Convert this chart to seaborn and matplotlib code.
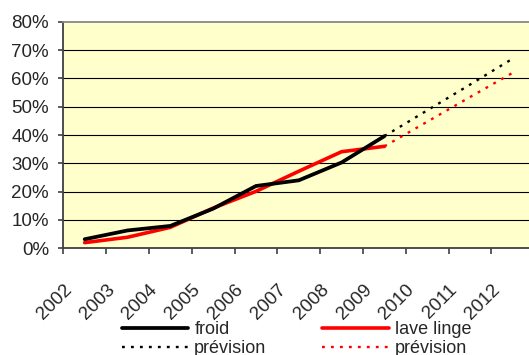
import numpy as np
import pandas as pd
import matplotlib
matplotlib.use("Agg")
import matplotlib.pyplot as plt
from matplotlib.ticker import FixedLocator
import seaborn as sns

# Equipment rate by year (%)
years = [2002, 2003, 2004, 2005, 2006, 2007, 2008, 2009, 2010, 2011, 2012]
hist_years = [2002, 2003, 2004, 2005, 2006, 2007, 2008, 2009]
froid = [3.2, 6.3, 7.9, 14.0, 22.0, 24.0, 30.3, 39.6]
lave_linge = [2.0, 3.9, 7.4, 14.2, 20.1, 27.2, 34.1, 36.0]
prev_years = [2009, 2010, 2011, 2012]
froid_prevision = [39.6, 48.7, 57.8, 67.0]
lave_linge_prevision = [36.0, 44.7, 53.4, 62.0]
y_ticks = [0, 10, 20, 30, 40, 50, 60, 70, 80]

sns.set_style("white")
plt.rcParams["font.family"] = ["Liberation Sans", "DejaVu Sans"]

W, H = 529, 355
fig = plt.figure(figsize=(W / 100, H / 100), dpi=100, facecolor="white")
left, right, top, bottom = 63.3, 530, 21.7, 248.3
ax = fig.add_axes([left / W, 1 - bottom / H, (right - left) / W, (bottom - top) / H])
ax.set_facecolor("#FFFFCC")

def pos(yrs):
    return [y - years[0] for y in yrs]

hist = pd.DataFrame({"x": pos(hist_years), "froid": froid, "lave": lave_linge})
prev = pd.DataFrame({"x": pos(prev_years), "froid": froid_prevision, "lave": lave_linge_prevision})

dot = (0, (1.2, 2.6))
sns.lineplot(data=hist, x="x", y="froid", color="black", lw=2.7, ax=ax, zorder=4)
sns.lineplot(data=hist, x="x", y="lave", color="#FF0000", lw=2.6, ax=ax, zorder=3)
sns.lineplot(data=prev, x="x", y="froid", color="black", lw=1.7, linestyle=dot, ax=ax, zorder=4)
sns.lineplot(data=prev, x="x", y="lave", color="#FF0000", lw=1.7, linestyle=dot, ax=ax, zorder=3)
lines = ax.get_lines()

# one category is 42.8 px wide; the frame is cut at the right edge
ax.set_xlim(-0.5, 10.4)
ax.set_ylim(0, 80)
ax.set_xlabel("")
ax.set_ylabel("")

# horizontal gridlines
for v in y_ticks[1:-1]:
    ax.axhline(v, color="black", lw=0.8, zorder=1)

ax.set_yticks(y_ticks)
ax.set_yticklabels([f"{v}%" for v in y_ticks], fontsize=13.5)
ax.tick_params(axis="y", which="major", direction="out", length=3.8, width=1.2,
               color="#404040", pad=6.5, left=True)

# category boundaries get the tick marks, labels sit inside each category
ax.xaxis.set_minor_locator(FixedLocator([i - 0.5 for i in range(len(years) + 1)]))
ax.tick_params(axis="x", which="minor", direction="out", length=4.5, width=1.2,
               color="#404040", bottom=True)
ax.set_xticks([i - 0.36 for i in range(len(years))])
ax.set_xticklabels([str(y) for y in years], rotation=45, ha="right", va="center",
                   rotation_mode="anchor", fontsize=13.5)
ax.tick_params(axis="x", which="major", length=0, pad=28)

for s in ("left", "bottom"):
    ax.spines[s].set_color("#404040")
    ax.spines[s].set_linewidth(1.3)
ax.spines["top"].set_color("#888888")
ax.spines["top"].set_linewidth(1.3)
ax.spines["right"].set_visible(False)

handles = [lines[0], lines[2], lines[1], lines[3]]
labels = ["froid", "prévision", "lave linge", "prévision"]
fig.legend(handles, labels, ncol=2, frameon=False, fontsize=13,
           loc="upper left", bbox_to_anchor=(121.5 / W, 1 - 321 / H),
           borderpad=0, borderaxespad=0, handlelength=3.68, handletextpad=0.35,
           columnspacing=3.1, labelspacing=0.12)

fig.savefig("out.png", dpi=100, facecolor="white")
